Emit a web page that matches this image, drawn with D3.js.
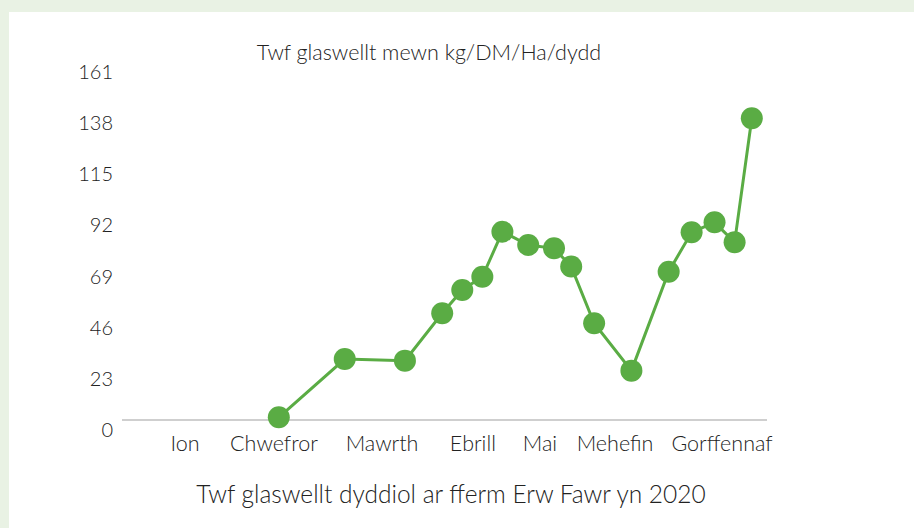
<!DOCTYPE html>
<html>
<head>
<meta charset="utf-8">
<script src="https://cdn.jsdelivr.net/npm/d3@7"></script>
<style>
  html, body { margin: 0; padding: 0; background: #e9f2e4; }
  svg { display: block; }
  text { font-family: "Lato", "Open Sans", sans-serif; fill: #222222; }
</style>
</head>
<body>
<svg id="chart" width="914" height="528"></svg>
<script>
// ---- data ----
const dayOfYear = [54, 77, 98, 111, 118, 125, 132, 141, 150, 156, 164, 177, 190, 198, 206, 213, 219];
const growth    = [1.2, 27.4, 26.7, 48.0, 58.5, 64.4, 84.7, 78.7, 77.2, 69.0, 43.5, 22.2, 66.7, 84.4, 88.9, 79.9, 135.7];
const monthLabels = ["Ion", "Chwefror", "Mawrth", "Ebrill", "Mai", "Mehefin", "Gorffennaf"];
const monthLabelDays = [21.3, 52.3, 90, 121.7, 145.1, 171.3, 208.6];
const yTicks = [0, 23, 46, 69, 92, 115, 138, 161];
const chartTitle = "Twf glaswellt mewn kg/DM/Ha/dydd";
const caption = "Twf glaswellt dyddiol ar fferm Erw Fawr yn 2020";

// ---- drawing ----
const svg = d3.select("#chart");
const W = 914, H = 528;

// white panel
svg.append("rect").attr("x", 9).attr("y", 12).attr("width", W - 9).attr("height", H - 12).attr("fill", "#ffffff");

const x = d3.scaleLinear().domain([0, 224.3]).range([124, 767]);
const y = d3.scaleLinear().domain([0, 161]).range([420, 62]);

// y labels
svg.append("g").selectAll("text").data(yTicks).join("text")
  .attr("x", 113).attr("y", d => y(d) + 9)
  .attr("text-anchor", "end").attr("dominant-baseline", "central")
  .attr("font-size", 20).attr("font-weight", 300)
  .text(d => d);

// baseline axis
svg.append("line")
  .attr("x1", x(0) - 2).attr("x2", x(224.3))
  .attr("y1", y(0)).attr("y2", y(0))
  .attr("stroke", "#cfcfcf").attr("stroke-width", 2);

// x month labels
svg.append("g").selectAll("text").data(monthLabels).join("text")
  .attr("x", (d, i) => x(monthLabelDays[i])).attr("y", 443)
  .attr("text-anchor", "middle").attr("dominant-baseline", "central")
  .attr("font-size", 21.5).attr("font-weight", 300)
  .text(d => d);

// line
const pts = dayOfYear.map((d, i) => [d, growth[i]]);
svg.append("path").datum(pts)
  .attr("fill", "none").attr("stroke", "#5aac44").attr("stroke-width", 3)
  .attr("d", d3.line().x(d => x(d[0])).y(d => y(d[1])));

svg.append("g").selectAll("circle").data(pts).join("circle")
  .attr("cx", d => x(d[0])).attr("cy", d => y(d[1])).attr("r", 11)
  .attr("fill", "#5aac44");

// titles
svg.append("text").attr("x", 429).attr("y", 52)
  .attr("text-anchor", "middle").attr("dominant-baseline", "central")
  .attr("font-size", 21.5).attr("font-weight", 300)
  .text(chartTitle);

svg.append("text").attr("x", 451).attr("y", 493)
  .attr("text-anchor", "middle").attr("dominant-baseline", "central")
  .attr("font-size", 24.5).attr("font-weight", 300)
  .text(caption);
</script>
</body>
</html>
